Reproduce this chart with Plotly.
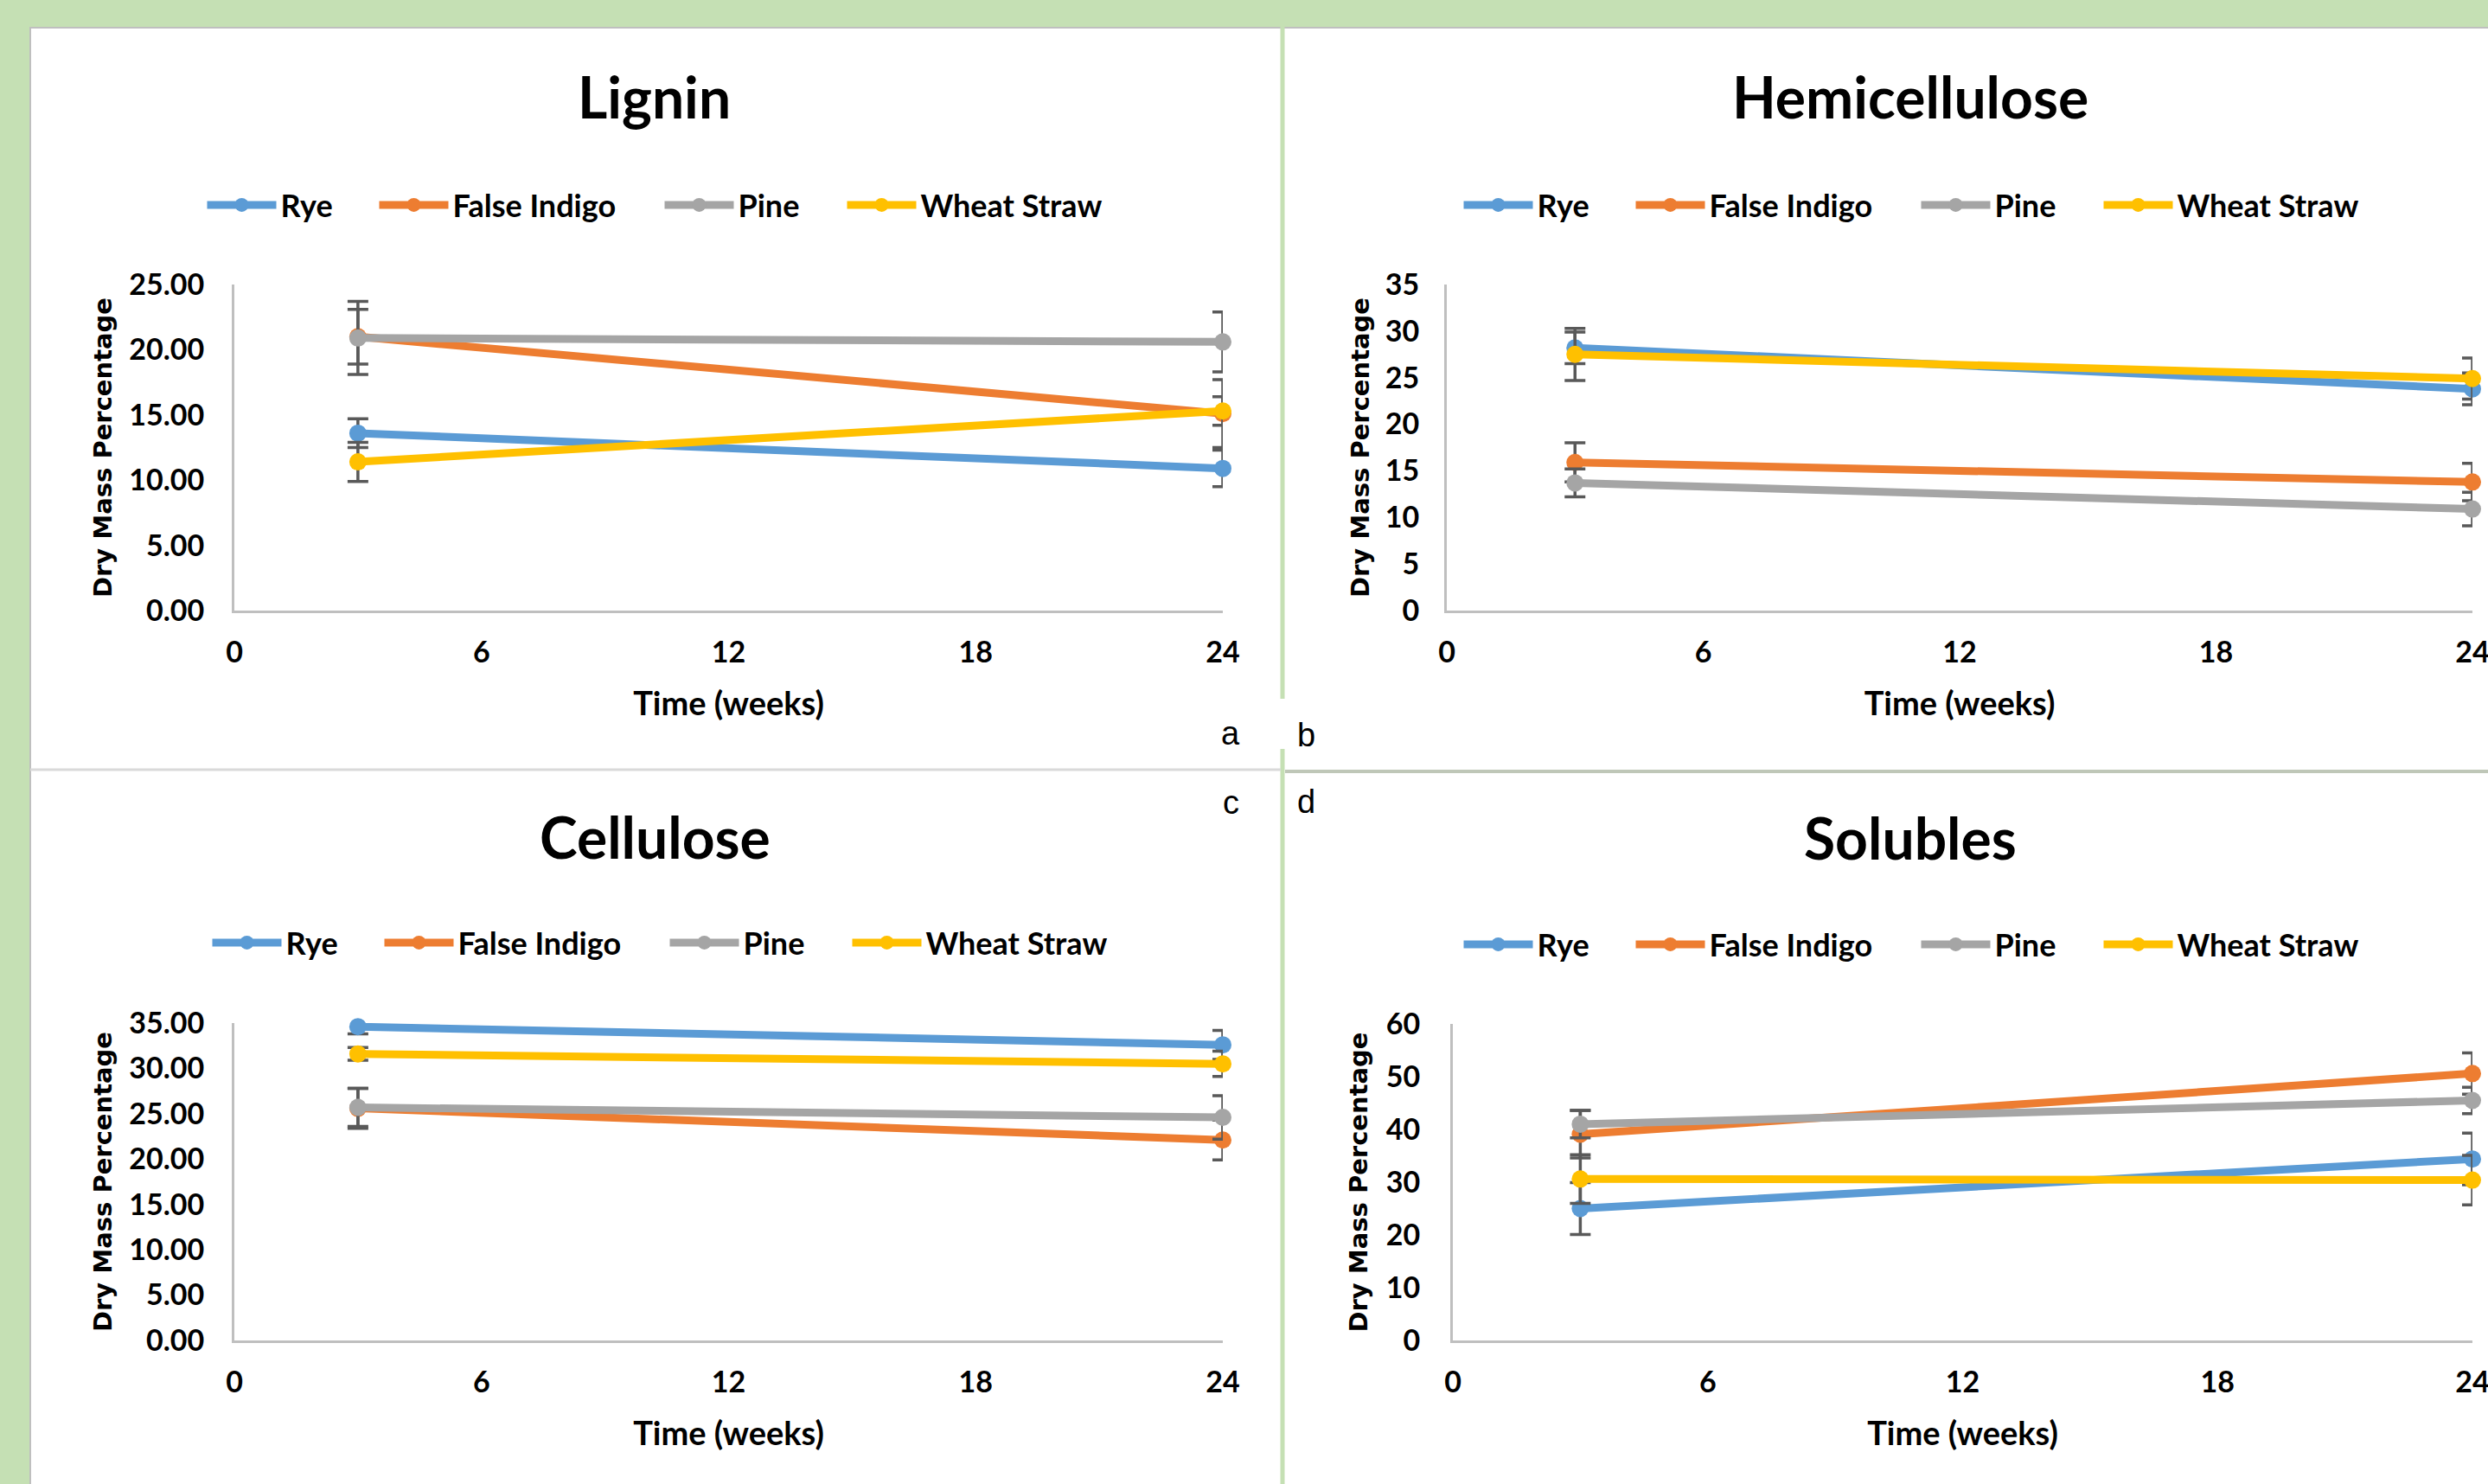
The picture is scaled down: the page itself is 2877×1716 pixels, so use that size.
import plotly.graph_objects as go

W, H = 2877, 1716

# ---------------- data ----------------
weeks = [3, 24]
series_names = ["Rye", "False Indigo", "Pine", "Wheat Straw"]
series_colors = ["#5B9BD5", "#ED7D31", "#A5A5A5", "#FFC000"]

lignin_rye = [13.6, 10.9]
lignin_rye_err = [1.1, 1.4]
lignin_false_indigo = [21.0, 15.1]
lignin_false_indigo_err = [2.1, 2.6]
lignin_pine = [20.9, 20.6]
lignin_pine_err = [2.8, 2.3]
lignin_wheat_straw = [11.4, 15.3]
lignin_wheat_straw_err = [1.5, 1.1]

hemi_rye = [28.2, 23.8]
hemi_rye_err = [1.7, 1.7]
hemi_false_indigo = [15.9, 13.8]
hemi_false_indigo_err = [2.1, 2.0]
hemi_pine = [13.7, 10.9]
hemi_pine_err = [1.5, 1.8]
hemi_wheat_straw = [27.5, 24.9]
hemi_wheat_straw_err = [2.8, 2.2]

cell_rye = [34.6, 32.6]
cell_rye_err = [0.8, 1.6]
cell_false_indigo = [25.6, 22.1]
cell_false_indigo_err = [2.2, 2.2]
cell_pine = [25.7, 24.6]
cell_pine_err = [2.1, 2.4]
cell_wheat_straw = [31.6, 30.5]
cell_wheat_straw_err = [0.7, 1.4]

sol_rye = [25.0, 34.4]
sol_rye_err = [4.9, 4.9]
sol_false_indigo = [39.1, 50.6]
sol_false_indigo_err = [4.5, 3.9]
sol_pine = [41.0, 45.5]
sol_pine_err = [2.6, 2.5]
sol_wheat_straw = [30.6, 30.4]
sol_wheat_straw_err = [4.6, 4.7]

panel_titles = ["Lignin", "Hemicellulose", "Cellulose", "Solubles"]
panel_letters = ["a", "b", "c", "d"]
x_ticks = [0, 6, 12, 18, 24]
x_title = "Time (weeks)"
y_title = "Dry Mass Percentage"

panel_values = [
    [lignin_rye, lignin_false_indigo, lignin_pine, lignin_wheat_straw],
    [hemi_rye, hemi_false_indigo, hemi_pine, hemi_wheat_straw],
    [cell_rye, cell_false_indigo, cell_pine, cell_wheat_straw],
    [sol_rye, sol_false_indigo, sol_pine, sol_wheat_straw],
]
panel_errors = [
    [lignin_rye_err, lignin_false_indigo_err, lignin_pine_err, lignin_wheat_straw_err],
    [hemi_rye_err, hemi_false_indigo_err, hemi_pine_err, hemi_wheat_straw_err],
    [cell_rye_err, cell_false_indigo_err, cell_pine_err, cell_wheat_straw_err],
    [sol_rye_err, sol_false_indigo_err, sol_pine_err, sol_wheat_straw_err],
]
y_max = [25, 35, 35, 60]
y_step = [5, 5, 5, 10]
y_format = [".2f", "d", ".2f", "d"]

# ---------------- layout geometry (pixels) ----------------
def fx(p):
    return p / W

def fy(p):
    return 1 - p / H

plot_boxes = [  # x0, x1, ytop, ybottom in px
    (271, 1414, 329, 706),
    (1673, 2859, 329, 706),
    (271, 1414, 1183, 1550),
    (1680, 2859, 1184, 1550),
]
ylab_standoff = [25, 22, 25, 28]
ytitle_standoff = [12, 10, 12, 13]
title_pos = [(756, 111), (2209, 111), (757, 967), (2209, 968)]
legend_pos = [(767, 237), (2220, 237), (773, 1090), (2220, 1092)]
letter_pos = [(1423, 848), (1510, 850), (1423, 928), (1510, 927)]
legend_widths = [104, 235, 116, 230]

TXT = "Lato"
fig = go.Figure()

for p in range(4):
    sfx = "" if p == 0 else str(p + 1)
    for s in range(4):
        fig.add_trace(go.Scatter(
            x=weeks, y=panel_values[p][s],
            name=series_names[s],
            mode="lines+markers",
            line=dict(color=series_colors[s], width=9),
            marker=dict(color=series_colors[s], size=20),
            error_y=dict(type="data", array=panel_errors[p][s], visible=True,
                         color="#595959", thickness=3.5, width=12),
            xaxis="x" + sfx, yaxis="y" + sfx,
            legend="legend" + sfx,
            legendwidth=legend_widths[s],
            cliponaxis=False,
        ))

layout = dict(
    template="none",
    width=W, height=H,
    margin=dict(l=0, r=0, t=0, b=0, pad=0, autoexpand=False),
    paper_bgcolor="#C5E0B4",
    plot_bgcolor="rgba(0,0,0,0)",
    showlegend=True,
    annotations=[],
    shapes=[],
)

for p in range(4):
    sfx = "" if p == 0 else str(p + 1)
    x0, x1, yt, yb = plot_boxes[p]
    layout["xaxis" + sfx] = dict(
        domain=[fx(x0), fx(x1)], anchor="y" + sfx, automargin=False,
        range=[0, 24], tickvals=x_ticks, ticks="", ticklabelstandoff=16,
        ticklabeloverflow="allow",
        showgrid=False, zeroline=False, showline=True,
        linecolor="#BFBFBF", linewidth=3,
        tickfont=dict(family=TXT, size=34, color="black", weight="bold"),
        title=dict(text=x_title, standoff=29,
                   font=dict(family=TXT, size=38, color="black", weight="bold")),
        fixedrange=True,
    )
    layout["yaxis" + sfx] = dict(
        domain=[fy(yb), fy(yt)], anchor="x" + sfx, automargin=False,
        range=[0, y_max[p]], dtick=y_step[p], tick0=0, tickformat=y_format[p],
        ticks="", ticklabelstandoff=ylab_standoff[p],
        showgrid=False, zeroline=False, showline=True,
        linecolor="#BFBFBF", linewidth=3,
        tickfont=dict(family=TXT, size=34, color="black", weight="bold"),
        title=dict(text=y_title, standoff=ytitle_standoff[p],
                   font=dict(family="DejaVu Sans", size=29, color="black", weight="bold")),
        fixedrange=True,
    )
    lx, ly = legend_pos[p]
    layout["legend" + sfx] = dict(
        orientation="h", x=fx(lx), xanchor="center", y=fy(ly), yanchor="middle",
        font=dict(family=TXT, size=36, color="black", weight="bold"),
        itemwidth=80, bgcolor="rgba(0,0,0,0)", traceorder="normal",
    )
    tx, ty = title_pos[p]
    layout["annotations"].append(dict(
        text=panel_titles[p], x=fx(tx), y=fy(ty), xref="paper", yref="paper",
        xanchor="center", yanchor="middle", showarrow=False,
        font=dict(family=TXT, size=66, color="black", weight="bold"),
    ))
    ax_, ay_ = letter_pos[p]
    layout["annotations"].append(dict(
        text=panel_letters[p], x=fx(ax_), y=fy(ay_), xref="paper", yref="paper",
        xanchor="center", yanchor="middle", showarrow=False,
        font=dict(family="Liberation Sans", size=38, color="black"),
    ))

def rect(x0, y0, x1, y1, fill):
    return dict(type="rect", xref="paper", yref="paper", x0=fx(x0), x1=fx(x1),
                y0=fy(y1), y1=fy(y0), fillcolor=fill, line=dict(width=0), layer="below")

def seg(x0, y0, x1, y1, color, w):
    return dict(type="line", xref="paper", yref="paper", x0=fx(x0), x1=fx(x1),
                y0=fy(y0), y1=fy(y1), line=dict(color=color, width=w), layer="below")

layout["shapes"] = [
    rect(35, 31, W, H, "white"),
    seg(35, 32, W, 32, "#BFBFBF", 2),
    seg(35, 31, 35, H, "#BFBFBF", 2),
    seg(1483, 31, 1483, 808, "#C5E0B4", 5),
    seg(1483, 866, 1483, H, "#C5E0B4", 5),
    seg(35, 890, 1481, 890, "#D9D9D9", 3),
    seg(1486, 892, W, 892, "#BFC7B8", 4),
]

fig.update_layout(**layout)
fig.write_html("out.html", config={"displayModeBar": False, "staticPlot": True},
               post_script="document.body.style.margin='0';document.body.style.overflow='hidden';")
